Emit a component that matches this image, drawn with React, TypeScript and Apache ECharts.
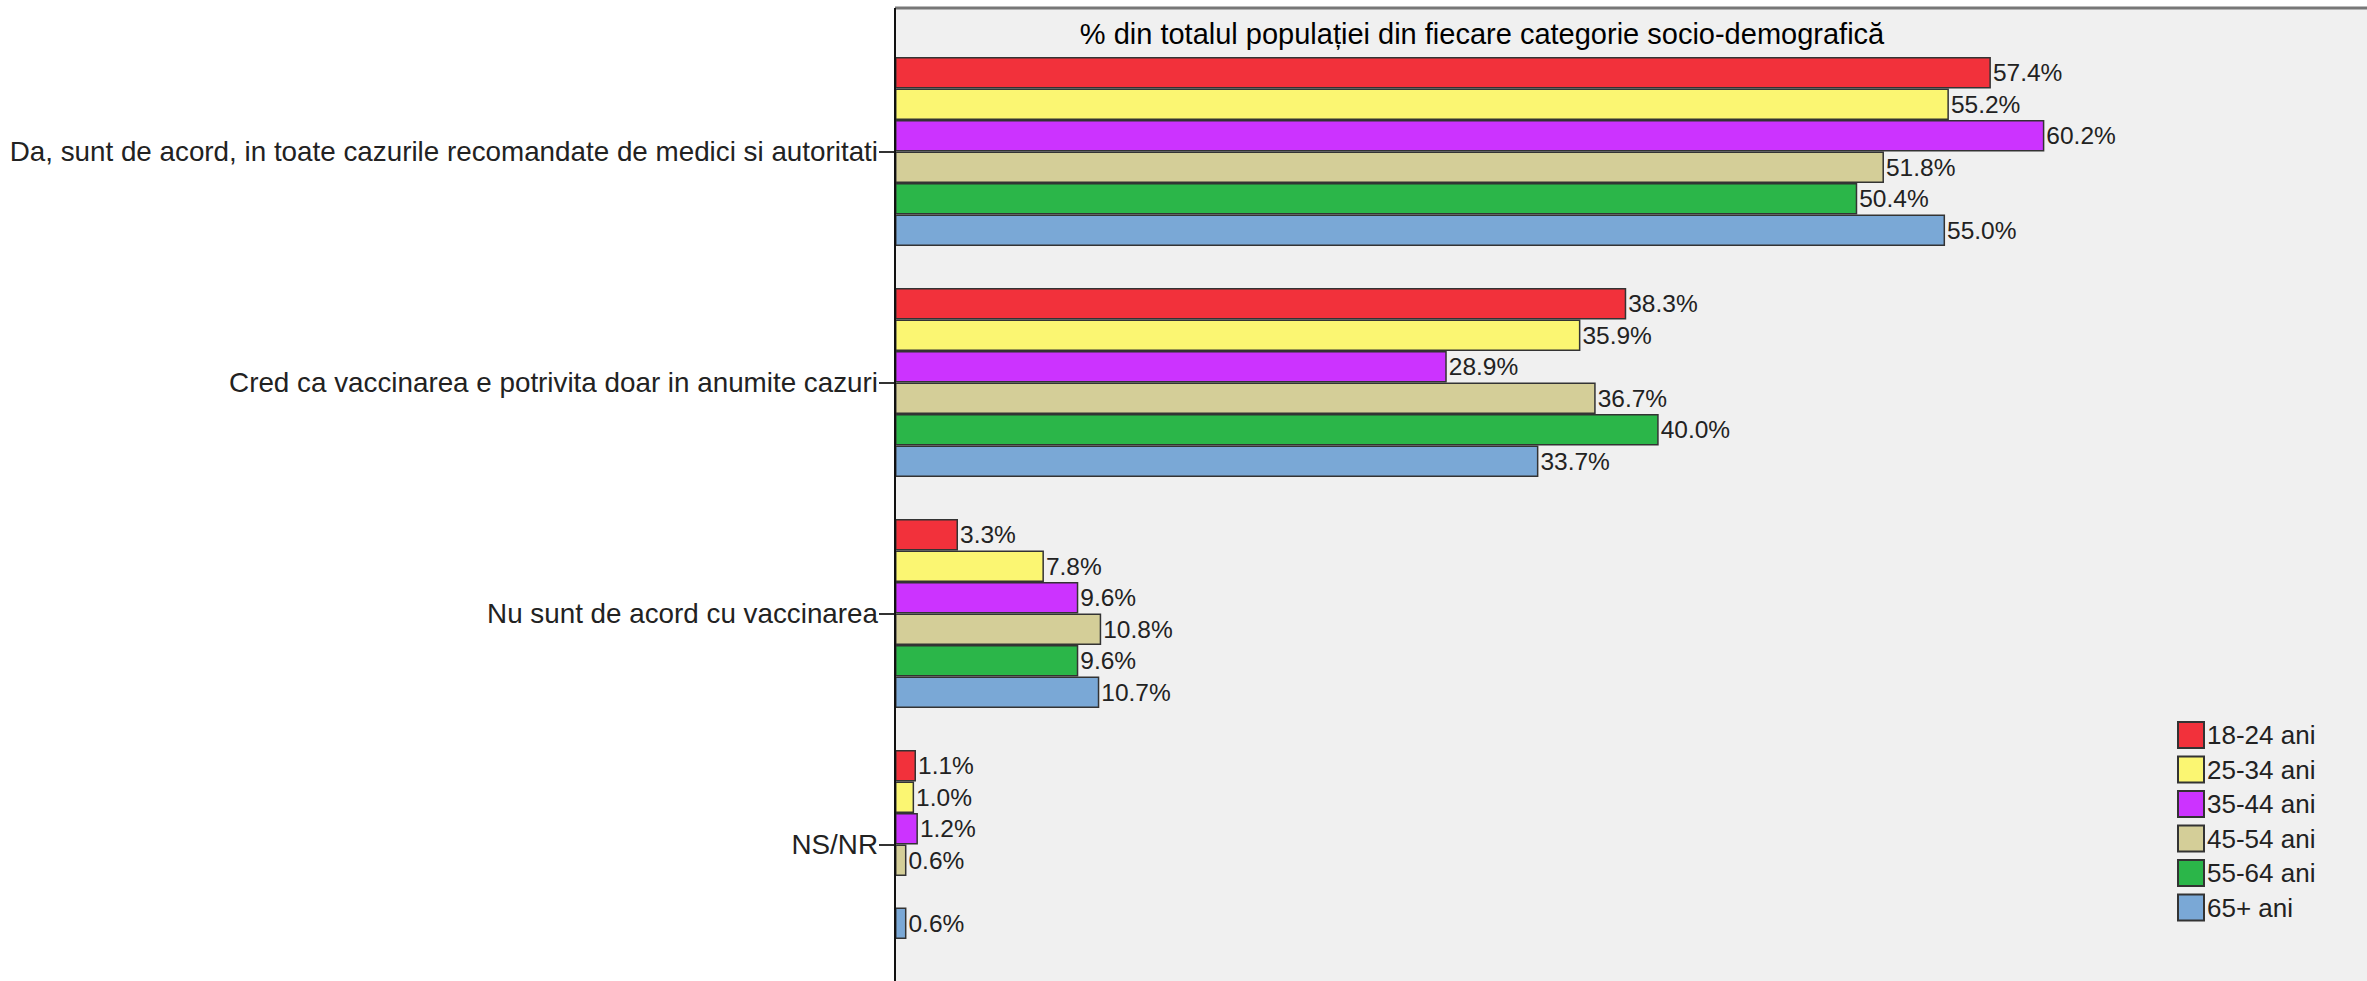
import React, { useEffect, useRef } from "react";
import * as echarts from "echarts";

const categories = [
  "Da, sunt de acord, in toate cazurile recomandate de medici si autoritati",
  "Cred ca vaccinarea e potrivita doar in anumite cazuri",
  "Nu sunt de acord cu vaccinarea",
  "NS/NR",
];

const seriesNames = ["18-24 ani", "25-34 ani", "35-44 ani", "45-54 ani", "55-64 ani", "65+ ani"];
const seriesColors = ["#F2313B", "#FBF672", "#CC33FF", "#D4CE98", "#2BB649", "#7AA8D6"];

const age18_24 = [57.4, 38.3, 3.3, 1.1];
const age25_34 = [55.2, 35.9, 7.8, 1.0];
const age35_44 = [60.2, 28.9, 9.6, 1.2];
const age45_54 = [51.8, 36.7, 10.8, 0.6];
const age55_64 = [50.4, 40.0, 9.6, null];
const age65plus = [55.0, 33.7, 10.7, 0.6];

const seriesValues = [age18_24, age25_34, age35_44, age45_54, age55_64, age65plus];

const titleText = "% din totalul populației din fiecare categorie socio-demografică";

const W = 2367;
const H = 981;
const PLOT_LEFT = 895;
const PLOT_TOP = 8;

export default function App() {
  const ref = useRef<HTMLDivElement>(null);
  useEffect(() => {
    if (!ref.current) return;
    const chart = echarts.init(ref.current, undefined, { renderer: "svg" });
    const font = "'Liberation Sans', Arial, sans-serif";
    chart.setOption({
      animation: false,
      backgroundColor: "#FFFFFF",
      grid: { left: PLOT_LEFT, top: 36, width: W - PLOT_LEFT, height: 924, containLabel: false },
      xAxis: {
        type: "value",
        min: 0,
        max: 77.1,
        show: false,
        splitLine: { show: false },
      },
      yAxis: {
        type: "category",
        inverse: true,
        data: categories,
        axisLine: { show: false },
        axisTick: { show: true, alignWithLabel: true, length: 16, lineStyle: { color: "#333", width: 2 } },
        axisLabel: { fontFamily: font, fontSize: 27.8, color: "#222", margin: 17 },
      },
      legend: {
        orient: "vertical",
        left: 2172,
        top: 716,
        itemWidth: 26,
        itemHeight: 26,
        itemGap: 6.5,
        icon: "rect",
        textStyle: { fontFamily: font, fontSize: 26, lineHeight: 26, color: "#222", padding: [0, 0, 0, -2] },
        data: seriesNames,
      },
      graphic: [
        { type: "rect", z: -10, shape: { x: PLOT_LEFT, y: PLOT_TOP, width: W - PLOT_LEFT, height: H - PLOT_TOP }, style: { fill: "#F0F0F0" } },
        { type: "line", z: 100, shape: { x1: PLOT_LEFT, y1: PLOT_TOP, x2: W, y2: PLOT_TOP }, style: { stroke: "#777", lineWidth: 3 } },
        { type: "line", z: 100, shape: { x1: PLOT_LEFT, y1: PLOT_TOP, x2: PLOT_LEFT, y2: H }, style: { stroke: "#111", lineWidth: 2 } },
        {
          type: "text",
          z: 100,
          x: 1482,
          y: 34,
          style: {
            text: titleText,
            fontFamily: "'Liberation Sans Narrow', 'Liberation Sans', sans-serif",
            fontSize: 29,
            fill: "#000",
            align: "center",
            verticalAlign: "middle",
          },
        },
      ],
      series: seriesNames.map((name, i) => ({
        name,
        type: "bar",
        data: seriesValues[i],
        barWidth: 31.5,
        barGap: "0%",
        itemStyle: { color: seriesColors[i], borderColor: "#333", borderWidth: 1.5 },
        label: {
          show: true,
          position: "right",
          distance: 2,
          fontFamily: font,
          fontSize: 24.5,
          color: "#222",
          formatter: (p: any) => (p.value == null ? "" : Number(p.value).toFixed(1) + "%"),
        },
      })),
    });
    return () => chart.dispose();
  }, []);
  return <div ref={ref} style={{ position: "fixed", left: 0, top: 0, width: W, height: H }} />;
}
